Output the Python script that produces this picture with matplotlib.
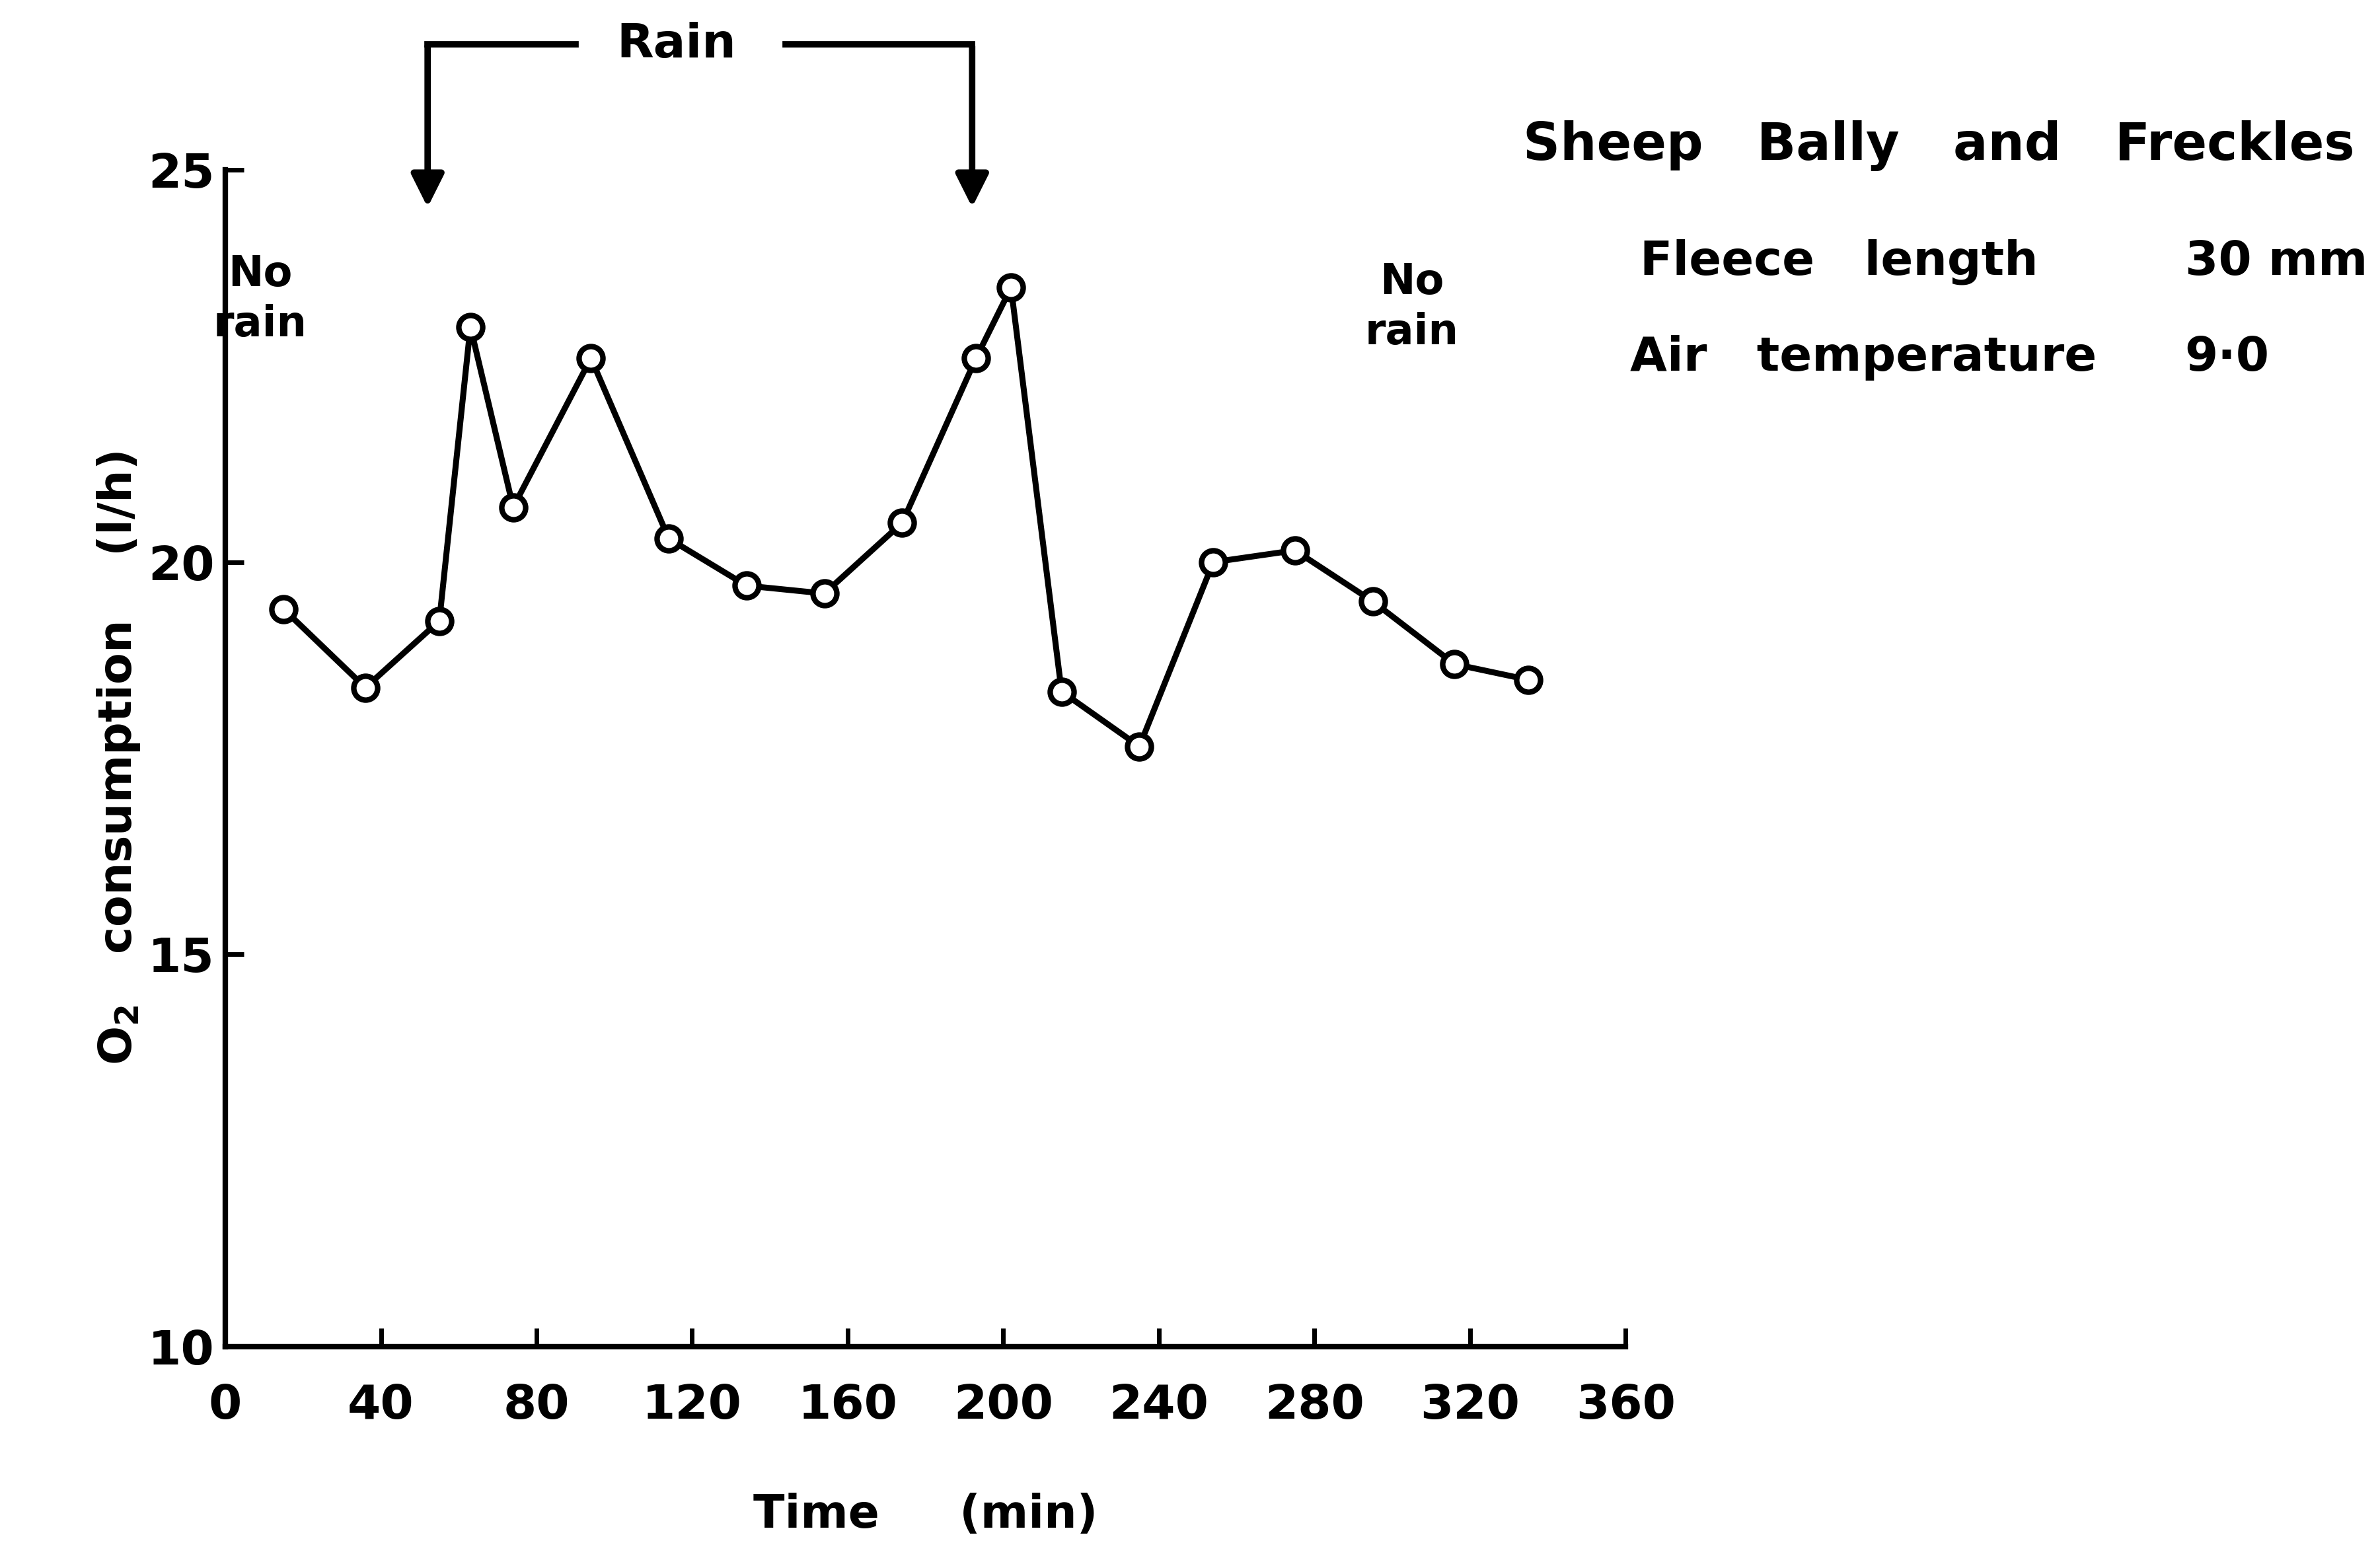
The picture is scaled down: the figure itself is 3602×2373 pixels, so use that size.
import matplotlib.pyplot as plt
import numpy as np

# O2 consumption of sheep during rain experiment
time_min = [15, 36, 55, 63, 74, 94, 114, 134, 154, 174, 193, 202, 215, 235, 254, 275, 295, 316, 335]
o2_lph = [19.4, 18.4, 19.25, 23.0, 20.7, 22.6, 20.3, 19.7, 19.6, 20.5, 22.6, 23.5, 18.35, 17.65,
          20.0, 20.15, 19.5, 18.7, 18.5]
x_ticks = [0, 40, 80, 120, 160, 200, 240, 280, 320, 360]
y_ticks = [10, 15, 20, 25]
rain_start, rain_end = 52, 192

plt.rcParams['font.family'] = ['DejaVu Sans']
plt.rcParams['font.weight'] = 'bold'

fig = plt.figure(figsize=(36.02, 23.73), dpi=100)
ax = fig.add_axes([0.0947, 0.1413, 0.5883, 0.7503])

ax.plot(time_min, o2_lph, color='black', linewidth=6.5, marker='o', markersize=26,
        markerfacecolor='white', markeredgecolor='black', markeredgewidth=6)

ax.set_xlim(0, 360)
ax.set_ylim(10, 25)
ax.set_xticks(x_ticks)
ax.set_yticks(y_ticks)
ax.spines['right'].set_visible(False)
ax.spines['top'].set_visible(False)
ax.spines['left'].set_linewidth(6)
ax.spines['bottom'].set_linewidth(6)
ax.tick_params(axis='both', direction='in', length=20, width=5, labelsize=52)
ax.tick_params(axis='x', pad=40)
ax.tick_params(axis='y', pad=12)

ax.set_xlabel('Time     (min)', fontsize=50, fontweight='bold', labelpad=70)
ax.set_ylabel('O$_2$   consumption    (l/h)', fontsize=50, fontweight='bold', labelpad=6)

# "No rain" notes
ax.text(9, 23.35, 'No\nrain', fontsize=46, fontweight='bold', ha='center', va='center', linespacing=1.3)
ax.text(305, 23.25, 'No\nrain', fontsize=46, fontweight='bold', ha='center', va='center', linespacing=1.3)

# Rain bracket with arrows
top_y = 26.6
ax.text(116, top_y, 'Rain', fontsize=52, fontweight='bold',
        ha='center', va='center', clip_on=False)
ax.plot([rain_start, 90], [top_y, top_y], color='black', linewidth=7, clip_on=False)
ax.plot([144, rain_end], [top_y, top_y], color='black', linewidth=7, clip_on=False)
for xr in (rain_start, rain_end):
    ax.annotate('', xy=(xr, 24.5), xytext=(xr, top_y), annotation_clip=False,
                arrowprops=dict(arrowstyle='-|>', color='black', lw=7, mutation_scale=75))

# Side text block
fig.text(0.640, 0.907, 'Sheep   Bally   and   Freckles', fontsize=56, fontweight='bold', va='center')
fig.text(0.689, 0.833, 'Fleece   length', fontsize=52, fontweight='bold', va='center')
fig.text(0.918, 0.833, '30 mm', fontsize=52, fontweight='bold', va='center')
fig.text(0.685, 0.772, 'Air   temperature', fontsize=52, fontweight='bold', va='center')
fig.text(0.918, 0.772, '9·0', fontsize=52, fontweight='bold', va='center')

fig.savefig('out.png', dpi=100)
